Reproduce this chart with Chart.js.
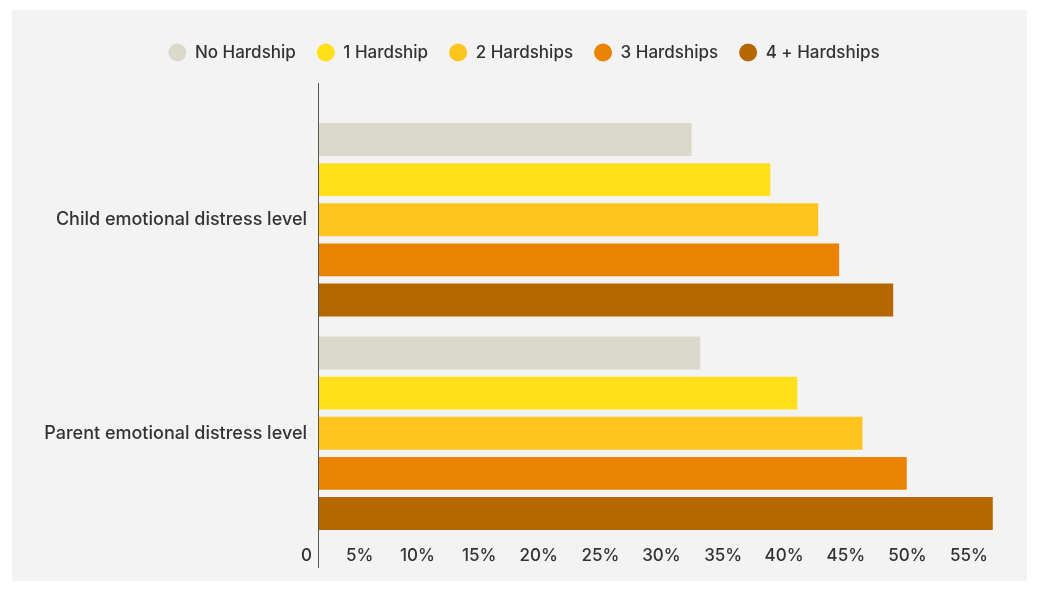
<!DOCTYPE html>
<html>
<head>
<meta charset="utf-8">
<script src="https://cdn.jsdelivr.net/npm/chart.js@4"></script>
<style>
  html, body { margin: 0; padding: 0; background: #ffffff; }
  .card {
    position: absolute;
    left: 12px;
    top: 10px;
    width: 1015px;
    height: 571px;
    background: #f3f3f3;
  }
</style>
</head>
<body>
<div class="card">
  <canvas id="distressChart" width="1015" height="571"></canvas>
</div>
<script>
// Share of families reporting emotional distress, by number of hardships
const categories = ["Child emotional distress level", "Parent emotional distress level"];
const seriesNames = ["No Hardship", "1 Hardship", "2 Hardships", "3 Hardships", "4 + Hardships"];
const seriesColors = ["#dbd9cc", "#ffe01b", "#ffc51f", "#e98300", "#b66700"];

const noHardship = [30.4, 31.1];
const oneHardship = [36.8, 39.0];
const twoHardships = [40.7, 44.3];
const threeHardships = [42.4, 47.9];
const fourPlusHardships = [46.8, 54.9];

const tickValues = [0, 5, 10, 15, 20, 25, 30, 35, 40, 45, 50, 55];

const seriesValues = [noHardship, oneHardship, twoHardships, threeHardships, fourPlusHardships];

const textColor = "#333333";
const fontFamily = "Inter, 'Noto Sans', sans-serif";

Chart.defaults.font.family = fontFamily;
Chart.defaults.font.size = 17;
Chart.defaults.font.weight = 500;
Chart.defaults.color = textColor;

// push the plot area down below the legend, and nudge the legend right
const legendGap = {
  id: "legendGap",
  beforeInit(chart) {
    const fit = chart.legend.fit;
    chart.legend.fit = function () {
      fit.bind(chart.legend)();
      this.height += 42;
    };
  },
  afterLayout(chart) {
    chart.legend.left += 21;
    chart.legend.right += 21;
  },
};

// vertical axis line, running a bit past the plot area on both ends
const axisLine = {
  id: "axisLine",
  afterDatasetsDraw(chart) {
    const { ctx, chartArea, scales } = chart;
    const x = Math.round(scales.x.getPixelForValue(0)) + 0.5;
    ctx.save();
    ctx.strokeStyle = "#555555";
    ctx.lineWidth = 1;
    ctx.beginPath();
    ctx.moveTo(x, chartArea.top - 30);
    ctx.lineTo(x, chartArea.bottom + 28);
    ctx.stroke();
    ctx.restore();
  },
};

const ctx = document.getElementById("distressChart").getContext("2d");

new Chart(ctx, {
  type: "bar",
  data: {
    labels: categories,
    datasets: seriesNames.map((name, i) => ({
      label: name,
      data: seriesValues[i],
      backgroundColor: seriesColors[i],
      borderWidth: 0,
      barPercentage: 0.82,
      categoryPercentage: 0.94,
    })),
  },
  options: {
    indexAxis: "y",
    responsive: false,
    animation: false,
    layout: {
      padding: { top: 13, right: 33, bottom: 0, left: 0 },
    },
    plugins: {
      legend: {
        position: "top",
        labels: {
          usePointStyle: true,
          pointStyle: "circle",
          pointStyleWidth: 18,
          boxHeight: 12.73,
          padding: 21,
          color: textColor,
          font: { size: 17, weight: 500 },
        },
      },
      tooltip: { enabled: false },
    },
    scales: {
      x: {
        type: "linear",
        min: 0,
        max: 55,
        afterBuildTicks(scale) {
          scale.ticks = tickValues.map((v) => ({ value: v }));
        },
        afterFit(scale) {
          scale.height = 41;
        },
        grid: { display: false, drawTicks: false },
        border: { display: false },
        ticks: {
          align: "end",
          labelOffset: -6,
          padding: 6,
          color: textColor,
          font: { size: 17, weight: 500 },
          callback: (v) => (v === 0 ? "0" : v + "%"),
        },
      },
      y: {
        afterFit(scale) {
          scale.width = 306;
        },
        grid: { display: false, drawTicks: false },
        border: { display: false },
        ticks: {
          padding: 11,
          color: textColor,
          font: { size: 18, weight: 500 },
        },
      },
    },
  },
  plugins: [legendGap, axisLine],
});
</script>
</body>
</html>
